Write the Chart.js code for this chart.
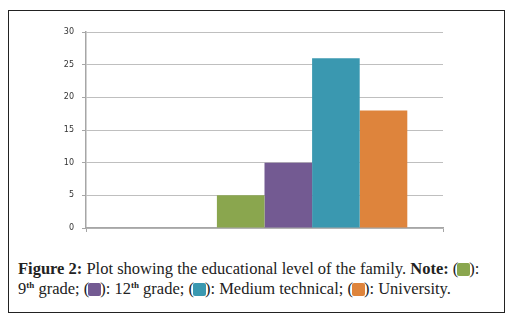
<!DOCTYPE html>
<html>
<head>
<meta charset="utf-8">
<script src="https://cdn.jsdelivr.net/npm/chart.js@4.4.1/dist/chart.umd.min.js"></script>
<style>
  html, body { margin: 0; padding: 0; background: #fff; }
  body { width: 511px; height: 320px; position: relative; overflow: hidden; }
  #frame {
    position: absolute; left: 8px; top: 10px; width: 497px; height: 303px;
    border: 1px solid #222; box-sizing: border-box;
  }
  #wrap { position: absolute; left: 0; top: 0; width: 511px; height: 250px; }
  #caption {
    position: absolute; left: 18px; top: 259px; width: 490px;
    font-family: "Liberation Serif", "DejaVu Serif", serif; font-size: 16.5px;
    line-height: 20px; color: #222; white-space: nowrap;
  }
  #caption sup { font-size: 9px; line-height: 0; vertical-align: 6px; font-weight: bold; }
  .sw { display: inline-block; width: 13px; height: 13px; vertical-align: -2px; border-radius: 2px; margin: 0 -1px; }
</style>
</head>
<body>
<div id="frame"></div>
<div id="wrap"><canvas id="chart" width="511" height="250"></canvas></div>
<div id="caption">
  <b>Figure 2:</b> Plot showing the educational level of the family. <b>Note:</b> (<span class="sw" style="background:#8aa64e"></span>):<br>
  9<sup>th</sup> grade; (<span class="sw" style="background:#735a92"></span>): 12<sup>th</sup> grade; (<span class="sw" style="background:#3a98b0"></span>): Medium technical; (<span class="sw" style="background:#de843c"></span>): University.
</div>
<script>
// one category, six series (first two are empty in the original plot)
const categories = [''];
const seriesNames = ['', '', '9th grade', '12th grade', 'Medium technical', 'University'];
const seriesValues = [0, 0, 5, 10, 26, 18];
const seriesColors = ['#ffffff', '#ffffff', '#8aa64e', '#735a92', '#3a98b0', '#de843c'];
const yTicks = [0, 5, 10, 15, 20, 25, 30];

const datasets = seriesNames.map((name, i) => ({
    label: name,
    data: [seriesValues[i]],
    backgroundColor: seriesColors[i],
    borderWidth: 0,
    categoryPercentage: 0.8,
    barPercentage: 1.0,
}));

new Chart(document.getElementById('chart').getContext('2d'), {
    type: 'bar',
    data: { labels: categories, datasets: datasets },
    options: {
        responsive: false,
        animation: false,
        layout: { padding: { left: 56, right: 68, top: 32, bottom: 12 } },
        plugins: { legend: { display: false }, tooltip: { enabled: false } },
        scales: {
            x: {
                grid: { display: true, drawOnChartArea: false, tickLength: 4, color: '#a6a6a6' },
                border: { display: true, color: '#a6a6a6', width: 1.5 },
                ticks: { display: false },
                afterFit: scale => { scale.height = 10; },
            },
            y: {
                min: 0,
                max: 30,
                afterBuildTicks: scale => { scale.ticks = yTicks.map(v => ({ value: v })); },
                grid: { color: '#bfbfbf', lineWidth: 1, tickLength: 4, tickColor: '#a6a6a6' },
                border: { display: true, color: '#a6a6a6', width: 1.5 },
                ticks: {
                    padding: 8,
                    color: '#333',
                    font: { family: 'DejaVu Sans', size: 8 },
                },
                afterFit: scale => { scale.width = 30; },
            },
        },
    },
});
</script>
</body>
</html>
